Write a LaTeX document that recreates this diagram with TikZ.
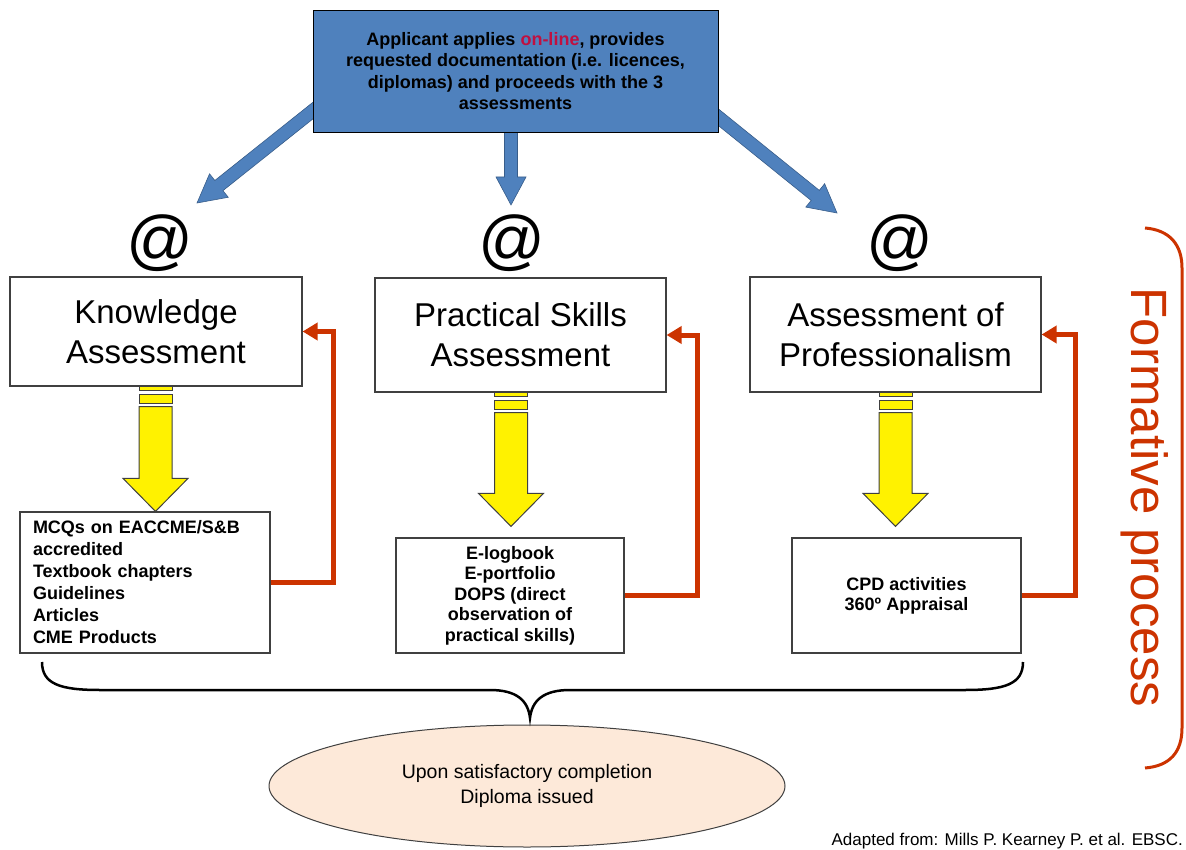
\documentclass[tikz,border=0pt]{standalone}
\usepackage{fontspec}
\setmainfont{Liberation Sans}
\usepackage{tikz}
\usetikzlibrary{arrows.meta}
\usetikzlibrary{calc}
\usetikzlibrary{shapes.geometric}
\usetikzlibrary{backgrounds}

\definecolor{boxblue}{RGB}{79,129,189}
\definecolor{blueedge}{RGB}{56,93,138}
\definecolor{formred}{RGB}{204,51,0}
\definecolor{linkred}{RGB}{192,16,64}
\definecolor{peach}{RGB}{253,233,217}
\definecolor{edgegray}{RGB}{64,64,64}

% block arrow from #1 to tip #2
\newcommand\bluearrow[2]{%
  \coordinate (bh) at ($(#2)!28pt!(#1)$);
  \filldraw[bluearrowstyle] ($(#1)!6.5pt!90:(#2)$) -- ($(bh)!6.5pt!90:(#2)$) -- ($(bh)!15pt!90:(#2)$)
     -- (#2) -- ($(bh)!15pt!-90:(#2)$) -- ($(bh)!6.5pt!-90:(#2)$) -- ($(#1)!6.5pt!-90:(#2)$) -- cycle;}
% striped arrow from top #1 down to tip #2
\newcommand\stripedarrow[2]{%
  \filldraw[yellowarrow] ($(#1)+(-16.5,0)$) rectangle ($(#1)+(16.5,4)$);
  \filldraw[yellowarrow] ($(#1)+(-16.5,8)$) rectangle ($(#1)+(16.5,17)$);
  \filldraw[yellowarrow] ($(#1)+(-16.5,20)$) -- ($(#1)+(16.5,20)$) -- ($(#2)+(16.5,-33)$) -- ($(#2)+(32.5,-33)$)
     -- (#2) -- ($(#2)+(-32.5,-33)$) -- ($(#2)+(-16.5,-33)$) -- cycle;}

\begin{document}
\begin{tikzpicture}[x=1pt,y=-1pt,
  topbox/.style={draw=black, fill=boxblue, line width=0.8pt, minimum width=405pt, minimum height=122pt,
    align=center, font=\bfseries\fontsize{18}{21.5}\selectfont},
  assessbox/.style={draw=edgegray, fill=white, line width=1.2pt, minimum width=291pt, align=center,
    font=\fontsize{33}{40}\selectfont},
  listbox/.style={draw=edgegray, fill=white, line width=1.2pt, font=\bfseries\fontsize{18}{22}\selectfont},
  atsign/.style={inner sep=0pt, font=\fontsize{66}{66}\selectfont},
  bluearrowstyle/.style={fill=boxblue, draw=blueedge, line width=0.6pt},
  yellowarrow/.style={fill=yellow, draw=edgegray, line width=1pt},
  feedback/.style={draw=formred, line width=5pt, -{Triangle[length=15pt,width=17pt]}}]
\useasboundingbox (0,0) rectangle (1186,850);

\node[topbox] (apply) at (515.5,71) {Applicant applies {\color{linkred}on-line}, provides\\
  requested documentation (i.e. licences,\\diplomas) and proceeds with the 3\\assessments};

\node[atsign] (atk) at (160,243) {@};
\node[atsign] (atp) at (512,243) {@};
\node[atsign] (atr) at (900,243) {@};

\node[assessbox, minimum width=292pt, minimum height=109pt] (know) at (156,331.5) {Knowledge\\Assessment};
\node[assessbox, minimum height=114pt] (prac) at (520.5,335) {Practical Skills\\Assessment};
\node[assessbox, minimum height=115pt] (prof) at (895.5,334.5) {Assessment of\\Professionalism};

\node[listbox, text width=224pt, inner xsep=13pt, align=left, minimum height=141pt] (knowlist) at (145,582.5)
  {MCQs on EACCME/S\&B\\accredited\\Textbook chapters\\Guidelines\\Articles\\CME Products};
\node[listbox, minimum width=228pt, minimum height=115pt, align=center, font=\bfseries\fontsize{18}{20.5}\selectfont]
  (praclist) at (510,595.5) {E-logbook\\E-portfolio\\DOPS (direct\\observation of\\practical skills)};
\node[listbox, minimum width=229pt, minimum height=115pt, align=center, font=\bfseries\fontsize{18}{20}\selectfont]
  (proflist) at (906.5,595.5) {CPD activities\\360º Appraisal};

\node[ellipse, draw=edgegray, fill=peach, line width=1pt, minimum width=516pt, minimum height=122pt,
  align=center, font=\fontsize{19.5}{25}\selectfont] (diploma) at (527,786)
  {Upon satisfactory completion\\Diploma issued};

\node[rotate=-90, inner sep=0pt, text=formred, font=\fontsize{51}{51}\selectfont] (formative) at (1145,497.5)
  {Formative process};
\node[anchor=base east, inner sep=0pt, font=\fontsize{17}{17}\selectfont] (credit) at (1183,845)
  {Adapted from: Mills P. Kearney P. et al. EBSC.};

\begin{scope}[on background layer]
\coordinate (kstart) at (330,97);  \coordinate (ktip) at (197,203);
\coordinate (pstart) at (511,100); \coordinate (ptip) at (511,205);
\coordinate (rstart) at (697,100); \coordinate (rtip) at (837,213);
\bluearrow{kstart}{ktip}
\bluearrow{pstart}{ptip}
\bluearrow{rstart}{rtip}
\coordinate (ky) at ([xshift=-0.5pt]know.south);
\coordinate (py) at ([xshift=-9.5pt]prac.south);
\coordinate (ry) at (prof.south);
\stripedarrow{ky}{$(ky |- knowlist.north)$}
\stripedarrow{py}{$(py |- praclist.north)+(0,-11)$}
\stripedarrow{ry}{$(ry |- proflist.north)+(0,-11)$}
\end{scope}

\draw[feedback] (knowlist.east) -- ++(63,0) |- (know.east);
\draw[feedback] (praclist.east) -- ++(73,0) |- (prac.east);
\draw[feedback] (proflist.east) -- ++(54,0) |- (prof.east);

% brace and bracket
\draw[line width=2.5pt] (42,662) .. controls (42,684) and (60,690) .. (100,690) -- (490,690)
   .. controls (516,690) and (528,700) .. (530,718) .. controls (532,700) and (544,690) .. (570,690)
   -- (965,690) .. controls (1005,690) and (1023,684) .. (1023,662);
\draw[formred, line width=3pt] (1145,228) .. controls (1170,230) and (1182,245) .. (1182,268) -- (1182,728)
   .. controls (1182,752) and (1170,766) .. (1145,768);
\end{tikzpicture}
\end{document}
